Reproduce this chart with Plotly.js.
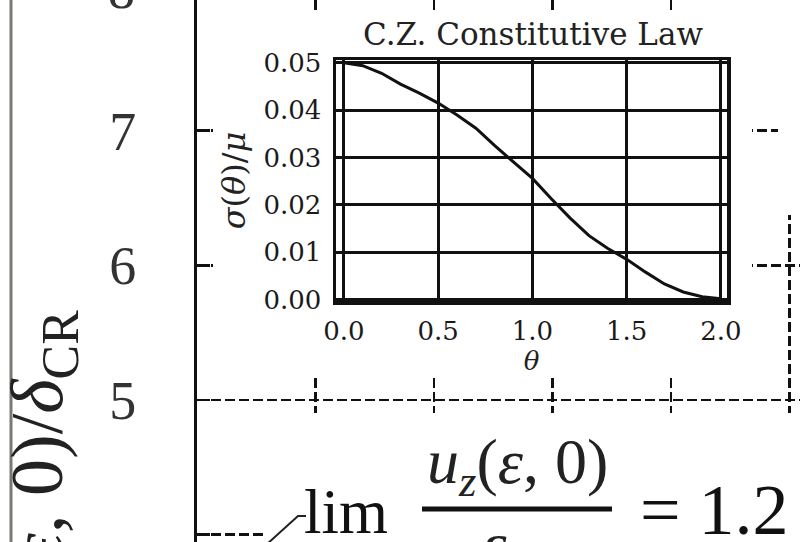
<!DOCTYPE html>
<html><head><meta charset="utf-8">
<script src="https://cdn.plot.ly/plotly-3.0.1.min.js"></script>
<style>html,body{margin:0;padding:0;background:#fff}#chart{width:800px;height:542px}</style>
</head><body><div id="chart"></div>
<script>
// ---- inset data: C.Z. constitutive law ----
const theta = [0,0.1,0.2,0.3,0.4,0.5,0.6,0.7,0.8,0.9,1.0,1.1,1.2,1.3,1.4,1.5,1.6,1.7,1.8,1.9,2.0];
const sigma = [0.0500,0.0494,0.0478,0.0455,0.0436,0.0415,0.0390,0.0362,0.0325,0.0290,0.0256,0.0213,0.0172,0.0135,0.0108,0.0085,0.0058,0.0033,0.0016,0.0006,0.0002];
const insetXTicks = [0,0.5,1,1.5,2];
const insetXTickText = ['0.0','0.5','1.0','1.5','2.0'];
const insetYTicks = [0,0.01,0.02,0.03,0.04,0.05];
const insetYTickText = ['0.00','0.01','0.02','0.03','0.04','0.05'];
// ---- outer axes ----
const mainYTicks = [4,5,6,7];
const mainYTickText = ['4','5','6','7'];
const mainXGrid = [1,2,3,4,5];
const limitValue = '1.2';

const W = 800, H = 542;
const px = v => v / W;
const py = v => 1 - v / H;
// outer axis mapping (layout only)
const oxRange = [0, 603/118.5];
const oyRange = [5 - 142/134.7, 5 + 400/134.7];
const ox = p => (p - 197) / 118.5;
const oy = p => 5 + (400 - p) / 134.7;

const serif = 'DejaVu Serif';
const times = 'Liberation Serif';

const data = [
  {x: theta, y: sigma, xaxis: 'x2', yaxis: 'y2', type: 'scatter', mode: 'lines',
   line: {color: '#111', width: 3}, hoverinfo: 'skip', showlegend: false}
];

const cover = (x0,x1,y0,y1) => ({type:'rect', xref:'x', yref:'y', layer:'between',
  x0: ox(x0), x1: ox(x1), y0: oy(y0), y1: oy(y1), fillcolor:'#ffffff', line:{width:0}});

const layout = {
  width: W, height: H,
  margin: {l:0, r:0, t:0, b:0, pad:0},
  paper_bgcolor: '#ffffff', plot_bgcolor: '#ffffff',
  showlegend: false,
  font: {family: serif, color: '#111'},
  title: {text: 'C.Z. Constitutive Law', font: {family: serif, size: 31, color: '#222'},
          x: px(533), y: py(34), xanchor: 'center', yanchor: 'middle', xref: 'paper', yref: 'paper'},
  xaxis: {domain: [197/W, 1], anchor: 'y', range: oxRange, tickvals: mainXGrid,
          showticklabels: false, ticks: '', showgrid: true, gridcolor: '#111', gridwidth: 2.5,
          griddash: '10px,4px', zeroline: false, showline: false, fixedrange: true},
  yaxis: {domain: [0, 1], anchor: 'x', range: oyRange, tickvals: mainYTicks, ticktext: mainYTickText,
          ticks: 'inside', ticklen: 13, tickwidth: 2.5, tickcolor: '#111',
          showline: true, linewidth: 3, linecolor: '#111',
          showgrid: true, gridcolor: '#111', gridwidth: 2.5, griddash: '10px,4px',
          zeroline: false, tickfont: {family: times, size: 54, color: '#333'},
          ticklabelstandoff: 47, fixedrange: true},
  xaxis2: {domain: [336/W, 727/W], anchor: 'y2', range: [-0.042, 2.032],
           tickvals: insetXTicks, ticktext: insetXTickText, ticks: '',
           showgrid: true, gridcolor: '#111', gridwidth: 3, zeroline: false,
           showline: true, mirror: true, linecolor: '#111', linewidth: 3.5,
           tickfont: {family: serif, size: 26, color: '#1a1a1a'}, ticklabelstandoff: 4,
           title: {text: '<i>θ</i>', font: {family: serif, size: 26, color: '#222'}, standoff: 2},
           fixedrange: true},
  yaxis2: {domain: [py(301), py(60)], anchor: 'x2', range: [-0.0003, 0.0506],
           tickvals: insetYTicks, ticktext: insetYTickText, ticks: '',
           showgrid: true, gridcolor: '#111', gridwidth: 3, zeroline: false,
           showline: true, mirror: true, linecolor: '#111', linewidth: 3.5,
           tickfont: {family: serif, size: 26, color: '#1a1a1a'}, ticklabelstandoff: 6,
           title: {text: '<i>σ</i>(<i>θ</i>)/<i>μ</i>', font: {family: serif, size: 32, color: '#222'}, standoff: 9},
           fixedrange: true},
  shapes: [
    cover(213, 752, 12, 378),
    cover(265, 800, 413, 560),
    cover(778, 800, -20, 215),
    {type:'line', xref:'paper', yref:'paper', layer:'above', x0: px(422), x1: px(612), y0: py(509), y1: py(509),
     line:{color:'#111', width:5}},
    {type:'path', xref:'paper', yref:'paper', layer:'above',
     path: `M ${px(266)},${py(545)} L ${px(298)},${py(516)} L ${px(306)},${py(516)}`,
     line:{color:'#222', width:2}},
    {type:'line', xref:'paper', yref:'paper', layer:'above', x0: px(11), x1: px(11), y0: 0, y1: 1,
     line:{color:'#7a7a72', width:3}}
  ],
  annotations: [
    {text: '8', xref:'paper', yref:'paper', x: px(137), y: py(-10), xanchor:'right', yanchor:'middle',
     showarrow:false, font:{family: times, size: 54, color:'#333'}},
    {text: '<i>u</i><sub><i>z</i></sub>(<i>ε</i>, 0)/<i>δ</i><sub>CR</sub>', xref:'paper', yref:'paper',
     x: px(42), y: py(308), xanchor:'center', yanchor:'top', textangle:-90, showarrow:false,
     font:{family: times, size: 74, color:'#222'}},
    {text: 'lim', xref:'paper', yref:'paper', x: px(346), y: py(512), xanchor:'center', yanchor:'middle',
     showarrow:false, font:{family: times, size: 63, color:'#111'}},
    {text: '<i>ε</i>→0', xref:'paper', yref:'paper', x: px(350), y: py(537), xanchor:'center', yanchor:'top',
     showarrow:false, font:{family: times, size: 40, color:'#111'}},
    {text: '<i>u</i><sub><i>z</i></sub>(<i>ε</i>, 0)', xref:'paper', yref:'paper', x: px(517), y: py(466),
     xanchor:'center', yanchor:'middle', showarrow:false, font:{family: times, size: 64, color:'#222'}},
    {text: '<i>ε</i>', xref:'paper', yref:'paper', x: px(494), y: py(544), xanchor:'center', yanchor:'middle',
     showarrow:false, font:{family: times, size: 62, color:'#222'}},
    {text: '= ' + limitValue, xref:'paper', yref:'paper', x: px(638), y: py(510), xanchor:'left', yanchor:'middle',
     showarrow:false, font:{family: times, size: 72, color:'#111'}}
  ]
};

Plotly.newPlot('chart', data, layout, {displayModeBar: false, staticPlot: true});
</script></body></html>
